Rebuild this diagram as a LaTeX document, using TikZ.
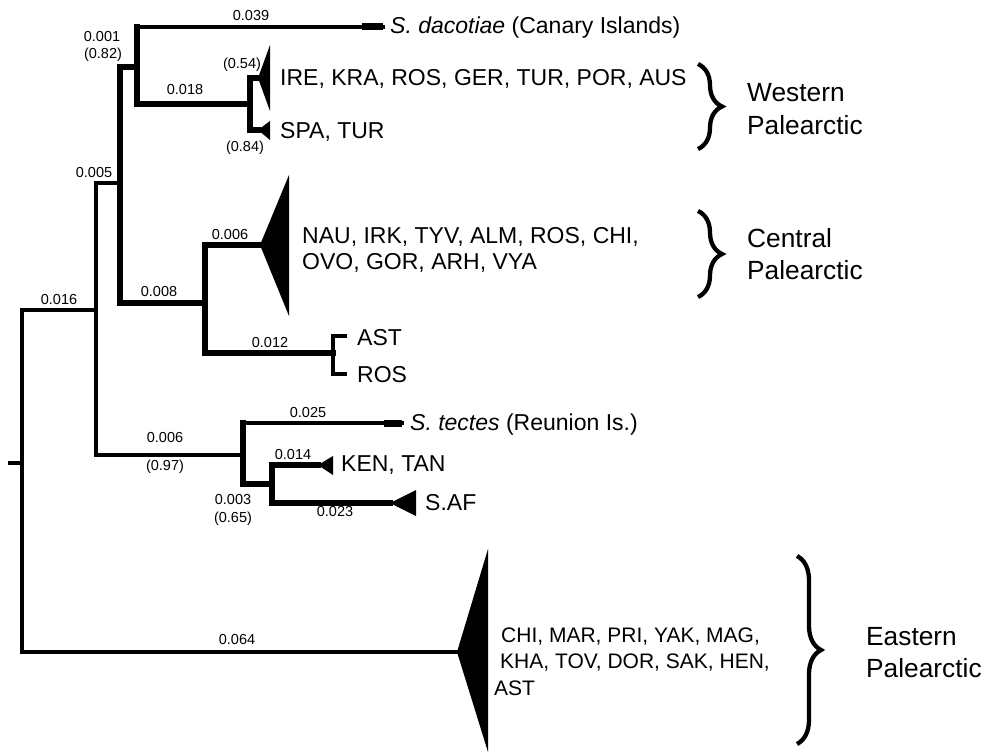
\documentclass[tikz,border=0pt]{standalone}
\usepackage{fontspec}
\setmainfont{Liberation Sans}
\usetikzlibrary{decorations.pathreplacing}
\begin{document}
\begin{tikzpicture}[x=1pt,y=-1pt,
  thn/.style={line width=3.3pt,line cap=rect},
  thk/.style={line width=5.4pt,line cap=rect},
  bl/.style={font=\fontsize{14.5}{14.5}\selectfont,inner sep=0pt},
  tx/.style={font=\fontsize{23}{23}\selectfont,anchor=west,inner sep=0pt},
  tt/.style={font=\fontsize{21}{21}\selectfont,anchor=west,inner sep=0pt},
  rg/.style={font=\fontsize{26.3}{26.3}\selectfont,anchor=west,inner sep=0pt},
  brc/.style={line width=4.3pt,decorate,decoration={brace,amplitude=24pt}}]
\useasboundingbox (0,0) rectangle (989,752);
% junctions
\coordinate (s0) at (10,463);
\coordinate (r) at (22,463);
\coordinate (j96) at (96,310);
\coordinate (j120) at (120,183);
\coordinate (j137) at (137,67);
\coordinate (dac) at (383,27);
\coordinate (j250) at (250,104);
\coordinate (ire) at (258,78);
\coordinate (spa) at (258,130);
\coordinate (j205) at (205,303);
\coordinate (nau) at (260,245);
\coordinate (j333) at (333,353);
\coordinate (ast) at (345,336);
\coordinate (ros) at (345,374);
\coordinate (j243) at (243,455);
\coordinate (tec) at (402,423);
\coordinate (j272) at (272,484);
\coordinate (ken) at (318,465);
\coordinate (saf) at (390,503);
\coordinate (eas) at (457,652);
% branches
\draw[thn] (s0) -- (r);
\draw[thn] (j96) -| (r);
\draw[line width=4.2pt,line cap=rect] (r) |- (eas);
\draw[thn] (j120) -| (j96) |- (j243);
\draw[thk] (j137) -| (j120) |- (j205);
\draw[thk] (j137 |- dac) |- (j250);
\draw[thn] (j137 |- dac) -- (dac);
\draw[thk] (ire) -| (j250) |- (spa);
\draw[thk] (nau) -| (j205) |- (j333);
\draw[thn] (ast) -| (j333) |- (ros);
\draw[thk] (j243 |- tec) |- (j272);
\draw[thn] (j243 |- tec) -- (tec);
\draw[thk] (ken) -| (j272) |- (saf);
% collapsed clades
\fill (362,23.5) rectangle (dac |- 0,30.5);
\fill (384,419.5) rectangle (tec |- 0,426.5);
\fill (ire) -- (270,45) -- (270,111) -- cycle;
\fill (spa) -- (270,121) -- (270,140) -- cycle;
\fill (nau) -- (289,175) -- (289,316) -- cycle;
\fill (ken) -- (333,456) -- (333,475) -- cycle;
\fill (saf) -- (416,490) -- (416,516) -- cycle;
\fill (eas) -- (488,549) -- (488,752) -- cycle;
% branch labels
\node[bl] (l039) at (251,16) {0.039};
\node[bl] (l001) at (102,37) {0.001};
\node[bl] (l082) at (103,55) {(0.82)};
\node[bl] (l018) at (185,90) {0.018};
\node[bl] (l054) at (242,65) {(0.54)};
\node[bl] (l084) at (245,148) {(0.84)};
\node[bl] (l005) at (94,173) {0.005};
\node[bl] (l016) at (59,300) {0.016};
\node[bl] (l006a) at (230,235) {0.006};
\node[bl] (l008) at (159,292) {0.008};
\node[bl] (l012) at (270,343) {0.012};
\node[bl] (l025) at (308,413) {0.025};
\node[bl] (l006b) at (165,438) {0.006};
\node[bl] (l097) at (165,467) {(0.97)};
\node[bl] (l014) at (293,455) {0.014};
\node[bl] (l003) at (233,500) {0.003};
\node[bl] (l065) at (233,519) {(0.65)};
\node[bl] (l023) at (335,512) {0.023};
\node[bl] (l064) at (237,640) {0.064};
% taxa
\node[tx] (tdac) at (390,28) {\textit{S. dacotiae} (Canary Islands)};
\node[tx] (tire) at (280,79) {IRE, KRA, ROS, GER, TUR, POR, AUS};
\node[tx] (tspa) at (280,132) {SPA, TUR};
\node[tx] (tnau1) at (302,237) {NAU, IRK, TYV, ALM, ROS, CHI,};
\node[tx] (tnau2) at (302,263) {OVO, GOR, ARH, VYA};
\node[tx] (tast) at (357,338) {AST};
\node[tx] (tros) at (357,375) {ROS};
\node[tx] (ttec) at (410,425) {\textit{S. tectes} (Reunion Is.)};
\node[tx] (tken) at (341,465) {KEN, TAN};
\node[tx] (tsaf) at (425,503) {S.AF};
\node[tt] (teas1) at (501,637) {CHI, MAR, PRI, YAK, MAG,};
\node[tt] (teas2) at (500,663) {KHA, TOV, DOR, SAK, HEN,};
\node[tt] (teas3) at (494,688) {AST};
% regions
\draw[brc] (698,64) -- (698,149);
\draw[brc] (698,211) -- (698,297);
\draw[brc] (797,556) -- (797,744);
\node[rg] (rw1) at (747,93) {Western};
\node[rg] (rw2) at (747,125) {Palearctic};
\node[rg] (rc1) at (747,238) {Central};
\node[rg] (rc2) at (747,270) {Palearctic};
\node[rg] (re1) at (866,637) {Eastern};
\node[rg] (re2) at (866,668) {Palearctic};
\end{tikzpicture}
\end{document}
